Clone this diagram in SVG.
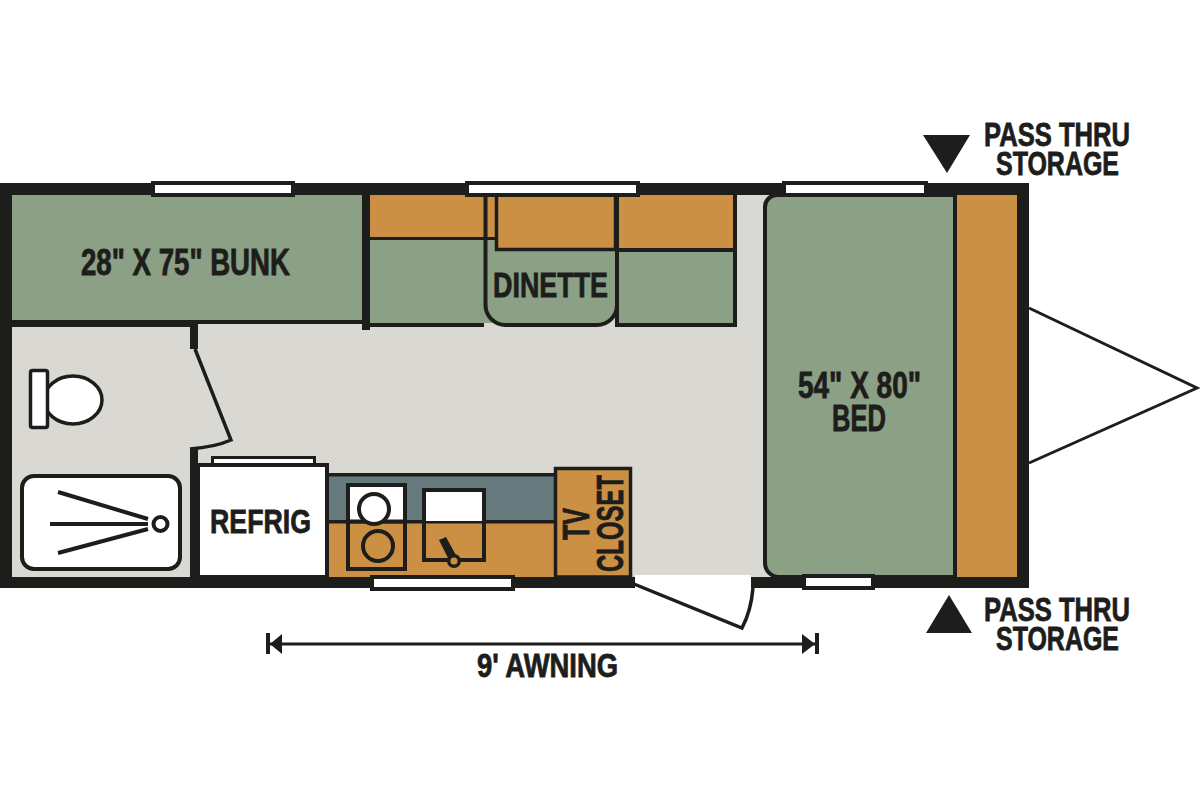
<svg xmlns="http://www.w3.org/2000/svg" width="1200" height="800" viewBox="0 0 1200 800">
<style>
.t{font-family:"Liberation Sans",Arial,sans-serif;font-weight:700;font-size:36px;fill:#1d1d1b;stroke:#1d1d1b;stroke-width:.8px}
.s{font-size:33.500px}
.k{fill:#1d1d1b}
.g{fill:#8ba084}
.o{fill:#cc9045}
.w{fill:#fff}
.l{fill:none;stroke:#1d1d1b;stroke-width:4}
.lw{fill:#fff;stroke:#1d1d1b;stroke-width:4}
.win{fill:#fff;stroke:#1d1d1b;stroke-width:4}
</style>
<rect width="1200" height="800" fill="#fff"/>
<g id="trailer-shell">
<rect class="k" x="0" y="183" width="1029" height="405"/>
<rect x="12" y="195" width="1005" height="382" fill="#dad8d3"/>
<rect x="635" y="575" width="116" height="14" fill="#fff"/>
<rect x="751" y="575" width="14" height="2" fill="#dad8d3"/>
</g>
<g id="hitch"><path class="l" d="M1029 308L1197 388L1029 463" style="stroke-width:3"/></g>
<g id="bunk">
<rect class="g" x="12" y="195" width="350" height="125"/>
<rect class="k" x="12" y="320" width="186" height="7"/>
<rect class="k" x="190" y="320" width="172" height="4"/>
<rect class="k" x="362" y="195" width="8" height="135"/>
<text class="t" x="81" y="275" textLength="209" lengthAdjust="spacingAndGlyphs">28" X 75" BUNK</text>
</g>
<g id="bathroom">
<rect class="k" x="190" y="327" width="8" height="22"/>
<rect class="k" x="190" y="449" width="8" height="128"/>
<path class="l" d="M195 349L231 440Q215 447 190 449" style="stroke-width:3.500"/>
<ellipse class="lw" cx="73" cy="400" rx="29" ry="24" style="stroke-width:3.500"/>
<rect class="lw" x="30.500" y="370.500" width="17" height="57" rx="2" style="stroke-width:3.500"/>
<rect class="lw" x="22" y="476" width="158" height="93" rx="12"/>
<path class="l" d="M58 492L148 519M50 524H148M58 553L148 529"/>
<circle class="lw" cx="160.500" cy="524" r="7"/>
</g>
<g id="refrig">
<rect class="win" x="212.500" y="457.500" width="102" height="8" style="stroke-width:3"/>
<path class="lw" d="M198 465H327V577H198Z"/>
<text class="t s" x="210" y="533" textLength="101" lengthAdjust="spacingAndGlyphs">REFRIG</text>
</g>
<g id="kitchen">
<rect x="329" y="476" width="226" height="46" fill="#66797c"/>
<rect class="o" x="329" y="522" width="226" height="55"/>
<rect class="k" x="329" y="473" width="226" height="3.500"/>
<rect class="k" x="329" y="520" width="226" height="3.500"/>
<rect class="w" x="348" y="485" width="57" height="36"/>
<rect class="l" x="348" y="485" width="57" height="84"/>
<path class="l" d="M348 521.500H405"/>
<circle class="lw" cx="374" cy="509" r="15"/>
<circle class="l" cx="378" cy="546" r="15"/>
<rect class="w" x="424" y="490" width="60" height="31"/>
<rect class="l" x="424" y="490" width="60" height="70"/>
<path class="k" d="M439 540L446 537L457 557L448 558Z"/>
<circle class="o" cx="454" cy="561" r="5.300" stroke="#1d1d1b" stroke-width="3.500"/>
</g>
<g id="tv-closet">
<rect class="o" x="555.500" y="468.500" width="75" height="108.500" stroke="#1d1d1b" stroke-width="3.500"/>
<text class="t" transform="translate(589 540) rotate(-90)" x="0" y="0" textLength="32" lengthAdjust="spacingAndGlyphs">TV</text>
<text class="t" transform="translate(623 572) rotate(-90)" x="0" y="0" textLength="97" lengthAdjust="spacingAndGlyphs">CLOSET</text>
</g>
<g id="dinette">
<rect class="o" x="370" y="195" width="125" height="42"/>
<rect class="g" x="370" y="240" width="125" height="83"/>
<rect class="k" x="370" y="237" width="125" height="3"/>
<rect class="k" x="370" y="323" width="114" height="4"/>
<path d="M485.500 195V305A20 20 0 0 0 505.500 325H597A20 20 0 0 0 617 305V195Z" fill="#8ba084" stroke="#1d1d1b" stroke-width="4"/>
<rect class="o" x="488" y="195" width="8" height="42"/>
<rect class="k" x="484" y="237" width="11" height="3"/>
<rect class="o" x="496.500" y="195" width="119" height="54.500" stroke="#1d1d1b" stroke-width="3.500"/>
<rect class="o" x="619" y="195" width="115.500" height="55"/>
<rect class="g" x="619" y="250" width="115.500" height="74"/>
<path class="l" d="M615 250H735M735 195V325H617"/>
<rect class="k" x="615" y="195" width="4" height="132"/>
<text class="t" x="493" y="297" textLength="115" lengthAdjust="spacingAndGlyphs" style="font-size:35px">DINETTE</text>
</g>
<g id="bed">
<path d="M765 563V207A12 12 0 0 1 777 195H955V577H779A14 14 0 0 1 765 563Z" fill="#8ba084" stroke="#1d1d1b" stroke-width="4"/>
<rect class="o" x="957" y="195" width="60" height="382"/>
<text class="t" x="798" y="398" textLength="123" lengthAdjust="spacingAndGlyphs">54" X 80"</text>
<text class="t" x="832" y="431" textLength="54" lengthAdjust="spacingAndGlyphs">BED</text>
</g>
<g id="windows">
<rect class="win" x="153" y="183" width="140" height="12"/>
<rect class="win" x="467" y="183" width="171" height="12"/>
<rect class="win" x="784" y="183" width="142" height="12"/>
<rect class="win" x="372" y="577" width="141" height="12"/>
<rect class="win" x="804" y="576" width="69" height="12"/>
</g>
<g id="entry-door">
<path class="l" d="M634 584L742 628Q751 611 753 588" style="stroke-width:3.500"/>
</g>
<g id="pass-thru-top">
<path class="k" d="M923 135H970L947 173Z"/>
<text class="t s" x="984" y="146" textLength="146" lengthAdjust="spacingAndGlyphs">PASS THRU</text>
<text class="t s" x="996" y="175" textLength="123" lengthAdjust="spacingAndGlyphs">STORAGE</text>
</g>
<g id="pass-thru-bottom">
<path class="k" d="M926 633H972L949 595Z"/>
<text class="t s" x="984" y="621" textLength="146" lengthAdjust="spacingAndGlyphs">PASS THRU</text>
<text class="t s" x="996" y="650" textLength="123" lengthAdjust="spacingAndGlyphs">STORAGE</text>
</g>
<g id="connectors">
<path class="l" d="M268 644H817" style="stroke-width:3"/>
<path class="k" d="M270 644L282 634V654ZM815 644L802 634V654Z"/>
<rect class="k" x="266" y="633" width="4" height="21"/>
<rect class="k" x="815" y="633" width="4" height="21"/>
</g>
<g id="awning-label">
<text class="t s" x="477" y="677" textLength="141" lengthAdjust="spacingAndGlyphs">9' AWNING</text>
</g>
</svg>
